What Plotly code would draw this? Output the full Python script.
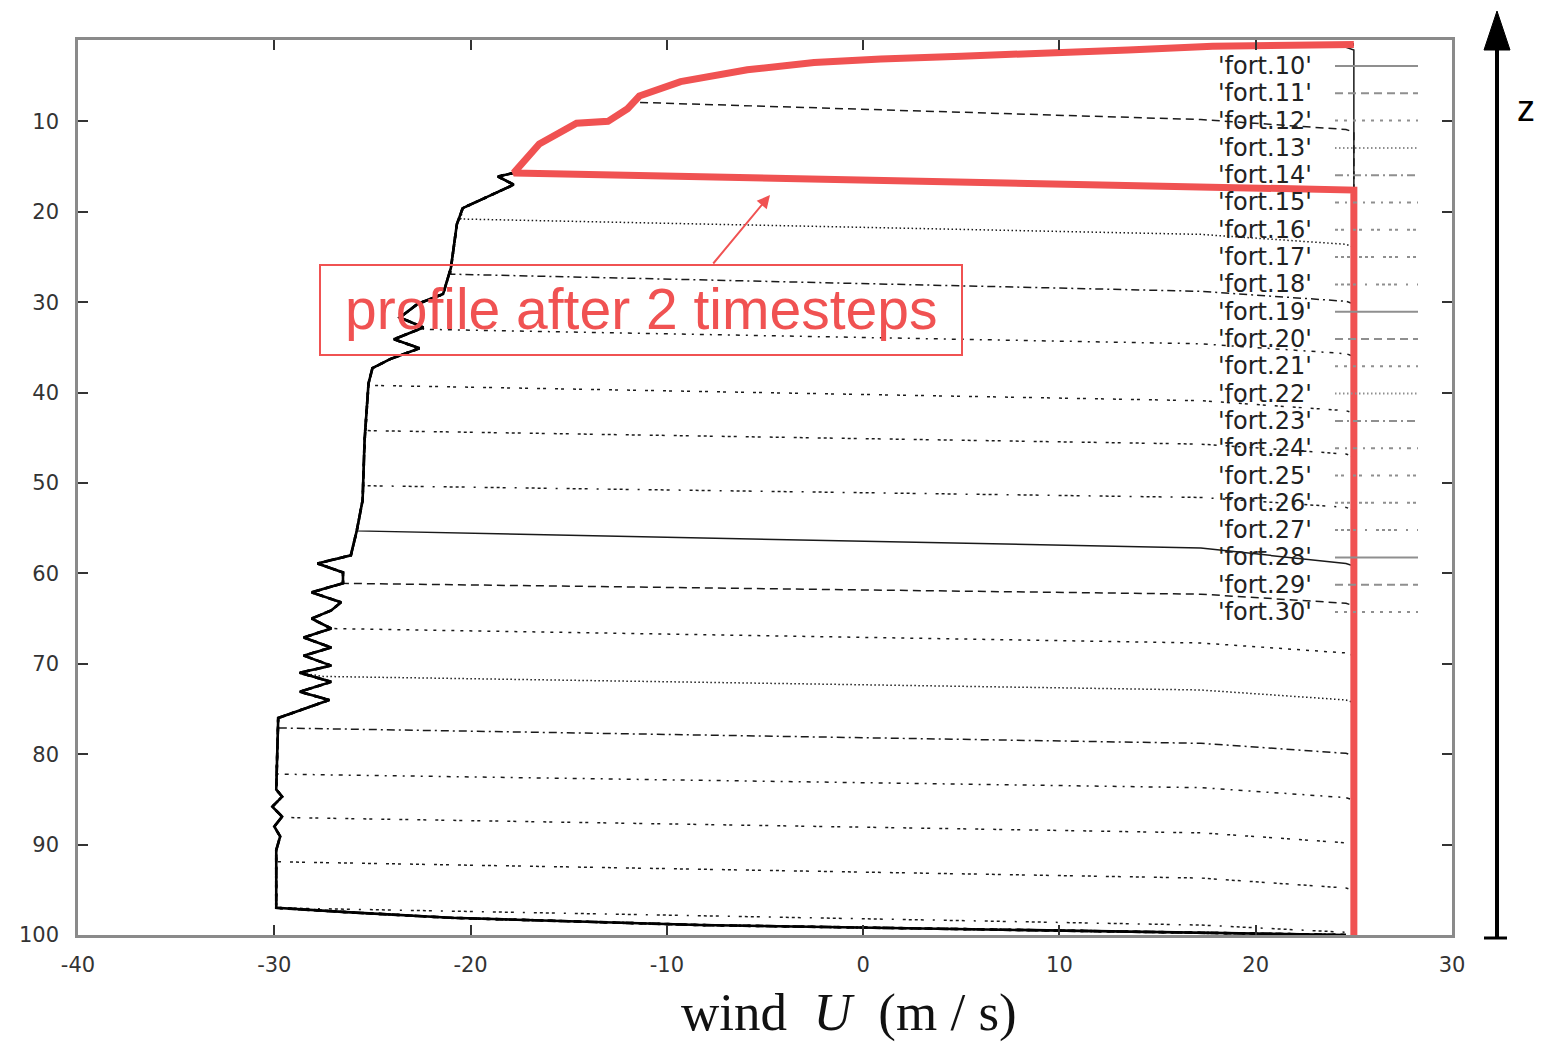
import plotly.graph_objects as go

# ---------------- data ----------------
PROFILE_NAMES = ["'fort.10'", "'fort.11'", "'fort.12'", "'fort.13'", "'fort.14'", "'fort.15'",
                 "'fort.16'", "'fort.17'", "'fort.18'", "'fort.19'", "'fort.20'", "'fort.21'",
                 "'fort.22'", "'fort.23'", "'fort.24'", "'fort.25'", "'fort.26'", "'fort.27'",
                 "'fort.28'", "'fort.29'", "'fort.30'"]

# settled (envelope) wind profile, top level -> bottom level
ENV_U = [25.0, 21.5, 17.8, 13.5, 9.4, 5.0, 0.9, -2.5, -5.9, -9.3, -11.4, -12.0, -13.0, -14.6,
         -16.5, -17.8,
         -18.6, -17.8, -20.4, -20.7, -21.0, -21.4, -22.7, -23.6, -22.4, -23.9, -22.6, -24.1,
         -25.0, -25.2, -25.4, -25.5, -25.8, -26.1, -27.8, -26.5, -26.5, -28.1, -26.6, -27.1,
         -28.1, -27.1, -28.5, -27.1, -28.5, -27.1, -28.7, -27.1, -28.7, -27.2, -29.8, -29.9,
         -29.6, -30.1, -29.6, -30.0, -29.7, -29.9, -29.9, -26.1, -21.0, -8.3, 7.0, 24.6]
ENV_Z = [1.5, 1.6, 1.7, 2.1, 2.5, 2.8, 3.1, 3.5, 4.3, 5.6, 7.2, 8.6, 10.0, 10.2,
         12.5, 15.7,
         16.1, 17.0, 19.6, 21.4, 26.2, 29.1, 30.2, 31.7, 32.8, 34.1, 35.1, 36.3,
         37.3, 39.0, 45.3, 51.9, 55.3, 58.0, 58.9, 59.9, 61.1, 62.1, 63.2, 64.1,
         65.0, 66.1, 67.1, 68.2, 69.1, 70.2, 71.0, 72.0, 73.1, 74.0, 76.0, 83.9,
         84.7, 85.8, 86.9, 88.0, 89.1, 90.6, 97.0, 97.5, 98.1, 98.9, 99.4, 100.0]

# front of each profile (None = profile already settled)
FRONT_LEFT_U = [9.4, -11.5, -17.8, -20.5, -21.0, -22.4, -25.2, -25.4, -25.5, -25.8, -26.5,
                -27.1, -27.5, -29.8, -29.9, -29.6, -29.9, -29.9, None, None, None]
FRONT_LEFT_Z = [2.5, 7.9, 15.7, 20.8, 26.9, 33.0, 39.2, 44.2, 50.3, 55.3, 61.1,
                66.1, 71.4, 77.1, 82.2, 87.0, 91.9, 97.0, None, None, None]
FRONT_MID_U = 17.2
FRONT_MID_Z = [1.8, 9.8, 17.1, 22.5, 28.8, 34.6, 40.9, 45.7, 51.6, 57.2, 62.3,
               67.7, 72.9, 78.8, 83.7, 88.7, 93.7, 98.9, None, None, None]
FRONT_RIGHT_U = 24.6
FRONT_RIGHT_Z = [1.8, 10.9, 17.6, 23.6, 29.9, 35.7, 42.0, 46.8, 52.7, 58.9, 63.3,
                 68.8, 74.0, 79.9, 84.8, 89.8, 94.8, 99.7, None, None, None]
WALL_U = 25.0
Z_BOTTOM = 100.0

# profile after 2 timesteps (highlighted)
RED_U = [25.0, 21.5, 17.8, 13.5, 9.4, 5.0, 0.9, -2.5, -5.9, -9.3, -11.4, -12.0, -13.0,
         -14.6, -16.5, -17.8, 25.0, 25.0]
RED_Z = [1.5, 1.6, 1.7, 2.1, 2.5, 2.8, 3.1, 3.5, 4.3, 5.6, 7.2, 8.6, 10.0,
         10.2, 12.5, 15.7, 17.6, 100.0]

X_TICKS = [-40, -30, -20, -10, 0, 10, 20, 30]
X_TICK_TEXT = ["-40", "-30", "-20", "-10", "0", "10", "20", "30"]
Y_TICKS = [10, 20, 30, 40, 50, 60, 70, 80, 90, 100]
Y_TICK_TEXT = ["10", "20", "30", "40", "50", "60", "70", "80", "90", "100"]

DASHES = ["solid", "8px,5px", "3px,6px", "1.5px,2.5px", "8px,4px,2px,4px",
          "4px,6px,2px,6px", "3px,3px,3px,9px", "3px,3px,3px,3px,3px,9px",
          "3px,3px,3px,3px,3px,3px,3px,9px,2px,9px"]

# ---------------- figure ----------------
fig = go.Figure()

for i, name in enumerate(PROFILE_NAMES):
    dash = DASHES[i % len(DASHES)]
    if FRONT_LEFT_Z[i] is None:
        xs, zs = list(ENV_U), list(ENV_Z)
        width, color = 2.6, "#000000"
    else:
        xs = [u for u, z in zip(ENV_U, ENV_Z) if z < FRONT_LEFT_Z[i]]
        zs = [z for z in ENV_Z if z < FRONT_LEFT_Z[i]]
        xs += [FRONT_LEFT_U[i], FRONT_MID_U, FRONT_RIGHT_U, WALL_U, WALL_U]
        zs += [FRONT_LEFT_Z[i], FRONT_MID_Z[i], FRONT_RIGHT_Z[i], FRONT_RIGHT_Z[i] + 0.3, Z_BOTTOM]
        width, color = 1.5, "#1a1a1a"
    fig.add_trace(go.Scatter(x=xs, y=zs, mode="lines", name=name, showlegend=False,
                             line=dict(color=color, width=width, dash=dash)))

RED = "#F05252"
fig.add_trace(go.Scatter(x=RED_U, y=RED_Z, mode="lines", showlegend=False,
                         line=dict(color=RED, width=7)))

W, H = 1541, 1048
L, R, T, B = 78, 89, 40, 113
PW, PH = W - L - R, H - T - B


def px(x):
    return (x - L) / PW


def py(y):
    return (H - B - y) / PH


annotations = []
shapes = []

# gnuplot-style key
for i, name in enumerate(PROFILE_NAMES):
    yy = py(66 + 27.3 * i)
    annotations.append(dict(x=px(1314), y=yy, xref="paper", yref="paper", text=name,
                            showarrow=False, xanchor="right", yanchor="middle",
                            font=dict(family="DejaVu Sans", size=24, color="#222")))
    shapes.append(dict(type="line", xref="paper", yref="paper", x0=px(1335), x1=px(1418),
                       y0=yy, y1=yy, line=dict(color="#8f8f8f", width=2,
                                               dash=DASHES[i % len(DASHES)])))

# label box + arrow
shapes.append(dict(type="rect", xref="paper", yref="paper", x0=px(320), x1=px(962),
                   y0=py(355), y1=py(265), line=dict(color=RED, width=2)))
annotations.append(dict(x=px(641), y=py(309), xref="paper", yref="paper",
                        text="profile after 2 timesteps", showarrow=False,
                        xanchor="center", yanchor="middle",
                        font=dict(family="Liberation Sans", size=57, color=RED)))
annotations.append(dict(x=px(770), y=py(195), xref="paper", yref="paper", text="",
                        showarrow=True, ax=-58, ay=70, arrowhead=2, arrowsize=1.3,
                        arrowwidth=2, arrowcolor=RED))

# z arrow
shapes.append(dict(type="line", xref="paper", yref="paper", x0=px(1497), x1=px(1497),
                   y0=py(938), y1=py(45), line=dict(color="black", width=4)))
shapes.append(dict(type="line", xref="paper", yref="paper", x0=px(1484), x1=px(1507),
                   y0=py(938), y1=py(938), line=dict(color="black", width=3)))
shapes.append(dict(type="path", xref="paper", yref="paper",
                   path=f"M {px(1484)} {py(50)} L {px(1497)} {py(11)} L {px(1510)} {py(50)} Z",
                   fillcolor="black", line=dict(color="black", width=1)))
annotations.append(dict(x=px(1526), y=py(108), xref="paper", yref="paper", text="z",
                        showarrow=False, xanchor="center", yanchor="middle",
                        font=dict(family="Liberation Sans", size=36, color="black")))

# x axis title
annotations.append(dict(x=px(849), y=py(1012), xref="paper", yref="paper",
                        text="wind\u00a0\u00a0<i>U</i>\u00a0\u00a0(m\u00a0/\u00a0s)",
                        showarrow=False, xanchor="center", yanchor="middle",
                        font=dict(family="Liberation Serif", size=53, color="#111")))

axis_common = dict(showgrid=False, zeroline=False, showline=True, linecolor="#8a8a8a",
                   linewidth=2.5, mirror="ticks", ticks="inside", ticklen=10, tickwidth=2,
                   tickcolor="#333", tickfont=dict(family="DejaVu Sans", size=21, color="#333"))

fig.update_layout(
    width=W, height=H,
    margin=dict(l=L, r=R, t=T, b=B, pad=0),
    paper_bgcolor="white", plot_bgcolor="white",
    showlegend=False,
    xaxis=dict(range=[-40, 30], tickmode="array", tickvals=X_TICKS, ticktext=X_TICK_TEXT,
               ticklabelstandoff=9, **axis_common),
    yaxis=dict(range=[100, 1], tickmode="array", tickvals=Y_TICKS, ticktext=Y_TICK_TEXT,
               ticklabelstandoff=12, **axis_common),
    annotations=annotations,
    shapes=shapes,
)

fig.write_html("out.html", config={"displayModeBar": False},
               post_script="document.body.style.margin='0';document.body.style.overflow='hidden';")
